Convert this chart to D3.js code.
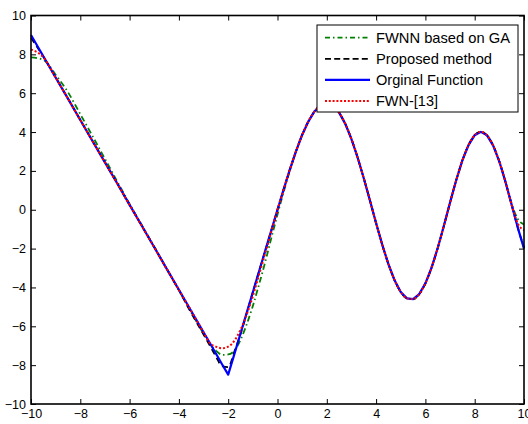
<!DOCTYPE html>
<html>
<head>
<meta charset="utf-8">
<script src="https://cdn.jsdelivr.net/npm/d3@7/dist/d3.min.js"></script>
<style>
  html, body { margin: 0; padding: 0; background: #fff; }
  svg { display: block; }
  text { font-family: "Liberation Sans", Arial, sans-serif; fill: #000; }
</style>
</head>
<body>
<svg id="chart" width="528" height="424"></svg>
<script>
// Sample points along x (coarser on the straight left branch)
const xs = [-10,-9.5,-9,-8.5,-8,-7.5,-7,-6.5,-6,-5.5,-5,-4.5,-4,-3.5,-3,
  -2.75,-2.5,-2.25,-2,-1.75,-1.5,-1.25,-1,-0.75,-0.5,-0.25,0,
  0.25,0.5,0.75,1,1.25,1.5,1.75,2,2.25,2.5,2.75,3,3.25,3.5,3.75,4,4.25,4.5,4.75,5,
  5.25,5.5,5.75,6,6.25,6.5,6.75,7,7.25,7.5,7.75,8,8.25,8.5,8.75,9,9.25,9.5,9.75,10];

// Original function
const original = [9.00,7.90,6.81,5.72,4.62,3.53,2.44,1.35,0.25,-0.84,-1.93,-3.03,-4.12,-5.21,-6.31,
  -6.85,-7.40,-7.95,-8.49,-7.43,-6.37,-5.31,-4.25,-3.18,-2.12,-1.06,0.00,
  1.05,2.07,3.01,3.85,4.54,5.06,5.38,5.48,5.35,5.00,4.42,3.64,2.69,1.62,0.48,-0.69,-1.80,-2.80,-3.63,-4.23,
  -4.56,-4.60,-4.34,-3.79,-2.98,-1.97,-0.82,0.37,1.52,2.54,3.33,3.84,4.01,3.83,3.30,2.48,1.43,0.25,-0.93,-2.00];

// FWNN based on GA
const fwnnGA = [7.84,7.72,6.95,6.05,4.92,3.78,2.62,1.45,0.30,-0.80,-1.90,-3.02,-4.15,-5.28,-6.38,
  -6.90,-7.25,-7.47,-7.45,-7.25,-6.70,-5.90,-4.95,-3.85,-2.70,-1.45,-0.25,
  0.92,2.00,3.00,3.85,4.54,5.06,5.38,5.48,5.35,5.00,4.42,3.64,2.69,1.62,0.48,-0.69,-1.80,-2.80,-3.63,-4.23,
  -4.56,-4.60,-4.34,-3.79,-2.98,-1.97,-0.82,0.37,1.52,2.54,3.33,3.84,4.01,3.83,3.30,2.48,1.43,0.30,-0.48,-0.75];

// Proposed method
const proposed = [8.85,7.88,6.81,5.72,4.62,3.53,2.44,1.35,0.25,-0.84,-1.93,-3.03,-4.14,-5.32,-6.42,
  -6.98,-7.55,-8.05,-8.10,-7.30,-6.40,-5.33,-4.25,-3.18,-2.12,-1.06,0.00,
  1.05,2.07,3.01,3.85,4.54,5.06,5.38,5.48,5.35,5.00,4.42,3.64,2.69,1.62,0.48,-0.69,-1.80,-2.80,-3.63,-4.23,
  -4.56,-4.60,-4.34,-3.79,-2.98,-1.97,-0.82,0.37,1.52,2.54,3.33,3.84,4.01,3.83,3.30,2.48,1.43,0.25,-0.93,-1.95];

// FWN-[13]
const fwn13 = [8.25,7.85,6.80,5.72,4.62,3.53,2.44,1.35,0.25,-0.84,-1.93,-3.03,-4.12,-5.21,-6.31,
  -6.85,-7.05,-7.13,-7.05,-6.75,-6.18,-5.40,-4.45,-3.35,-2.25,-1.12,0.00,
  1.05,2.07,3.01,3.85,4.54,5.06,5.38,5.48,5.35,5.00,4.42,3.64,2.69,1.62,0.48,-0.69,-1.80,-2.80,-3.63,-4.23,
  -4.56,-4.60,-4.34,-3.79,-2.98,-1.97,-0.82,0.37,1.52,2.54,3.33,3.84,4.01,3.83,3.30,2.48,1.43,0.25,-0.72,-1.05];

const xTicks = [-10,-8,-6,-4,-2,0,2,4,6,8,10];
const yTicks = [-10,-8,-6,-4,-2,0,2,4,6,8,10];

const seriesNames = ["FWNN based on GA", "Proposed method", "Orginal Function", "FWN-[13]"];

const svg = d3.select("#chart");
const plotLeft = 31, plotRight = 524, plotTop = 15.5, plotBottom = 404;

const x = d3.scaleLinear().domain([-10, 10]).range([plotLeft, plotRight]);
const y = d3.scaleLinear().domain([-10, 10]).range([plotBottom, plotTop]);

const styles = [
  { data: fwnnGA,   color: "#008000", dash: "6,3,1.5,3", width: 1.8, curve: d3.curveMonotoneX, legendDash: "5,3,1.5,3" },
  { data: proposed, color: "#000000", dash: "6,4",       width: 1.8, curve: d3.curveMonotoneX, legendDash: "6,3.2" },
  { data: original, color: "#0000ff", dash: null,        width: 2.2, curve: d3.curveLinear,    legendDash: null },
  { data: fwn13,    color: "#ff0000", dash: "2,2",       width: 2,   curve: d3.curveMonotoneX, legendDash: "2,1.8" }
];

// Curves
const plot = svg.append("g");
styles.forEach(s => {
  const line = d3.line()
    .x((d, i) => x(xs[i]))
    .y(d => y(d))
    .curve(s.curve);
  plot.append("path")
    .datum(s.data)
    .attr("d", line)
    .attr("fill", "none")
    .attr("stroke", s.color)
    .attr("stroke-width", s.width)
    .attr("stroke-dasharray", s.dash)
    .attr("stroke-linejoin", "round");
});

// Axes with inward ticks on all four sides
const fontSize = 12.5;
const gx = svg.append("g").attr("transform", `translate(0,${plotBottom})`)
  .call(d3.axisBottom(x).tickValues(xTicks).tickSizeInner(-5).tickSizeOuter(0).tickPadding(5).tickFormat(d3.format("d")));
const gy = svg.append("g").attr("transform", `translate(${plotLeft},0)`)
  .call(d3.axisLeft(y).tickValues(yTicks).tickSizeInner(-5).tickSizeOuter(0).tickPadding(5).tickFormat(d3.format("d")));
const gt = svg.append("g").attr("transform", `translate(0,${plotTop})`)
  .call(d3.axisTop(x).tickValues(xTicks).tickSizeInner(-5).tickSizeOuter(0).tickFormat(""));
const gr = svg.append("g").attr("transform", `translate(${plotRight},0)`)
  .call(d3.axisRight(y).tickValues(yTicks).tickSizeInner(-5).tickSizeOuter(0).tickFormat(""));

[gx, gy, gt, gr].forEach(g => {
  g.select(".domain").remove();
  g.selectAll(".tick line").attr("stroke", "#000").attr("stroke-width", 1);
  g.selectAll(".tick text")
    .attr("font-family", "Liberation Sans, Arial, sans-serif")
    .attr("font-size", fontSize)
    .attr("fill", "#000");
});

// Axes box
svg.append("rect")
  .attr("x", plotLeft).attr("y", plotTop)
  .attr("width", plotRight - plotLeft).attr("height", plotBottom - plotTop)
  .attr("fill", "none").attr("stroke", "#000").attr("stroke-width", 1.6);

// Legend
const legendTextWidths = [134, 116, 107, 62];
const lg = svg.append("g");
lg.append("rect")
  .attr("x", 317).attr("y", 25).attr("width", 201).attr("height", 87)
  .attr("fill", "#fff").attr("stroke", "#000").attr("stroke-width", 1);
styles.forEach((s, i) => {
  const cy = 37.7 + i * 21.1;
  lg.append("line")
    .attr("x1", 325).attr("x2", 370).attr("y1", cy).attr("y2", cy)
    .attr("stroke", s.color).attr("stroke-width", s.width)
    .attr("stroke-dasharray", s.legendDash);
  lg.append("text")
    .attr("x", 376).attr("y", cy).attr("dy", "0.36em")
    .attr("font-size", 14.5)
    .attr("textLength", legendTextWidths[i])
    .attr("lengthAdjust", "spacingAndGlyphs")
    .text(seriesNames[i]);
});
</script>
</body>
</html>
